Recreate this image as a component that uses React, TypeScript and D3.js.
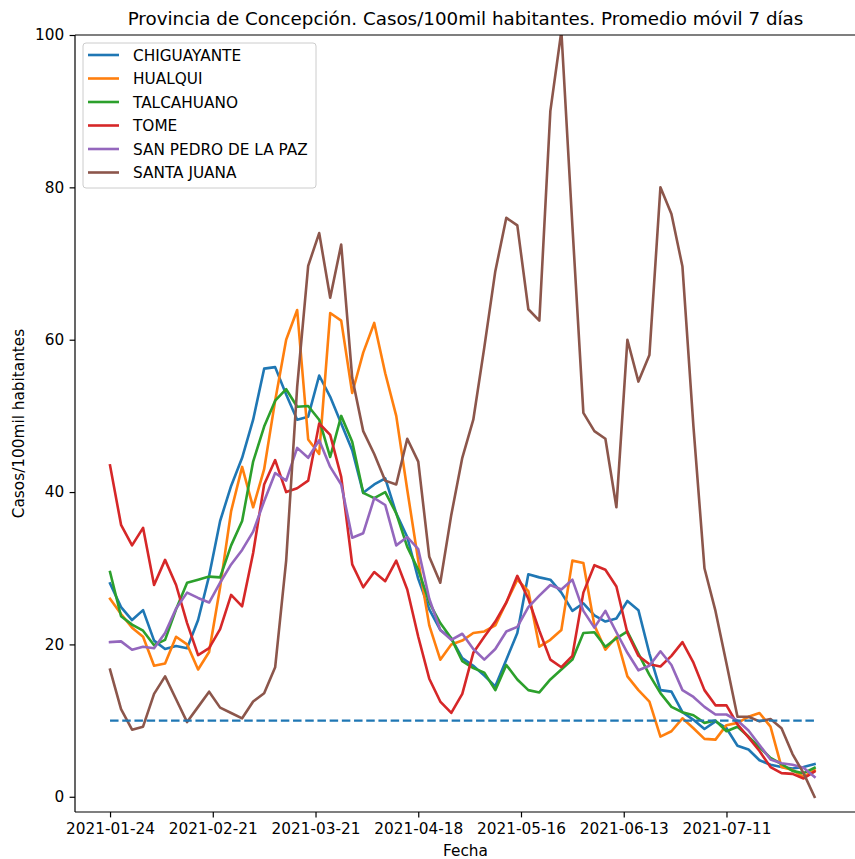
import { useEffect, useRef } from "react";
import * as d3 from "d3";

// Values, one every 3 days starting at startDate
const startDate = "2021-01-24";
const stepDays = 3;

const chiguayante = [
  28, 24.9, 23.2, 24.5, 20.5, 19.4, 19.8, 19.5, 23.2, 29,
  36.2, 40.8, 44.5, 49.5, 56.2, 56.4, 52.8, 49.5, 49.9, 55.3,
  52.5, 49, 45.5, 39.9, 41, 41.8, 37.2, 34.1, 28.6, 24.6,
  21.9, 20.8, 18.2, 17.2, 15.9, 14.5, 18, 21.5, 29.2, 28.8,
  28.5, 26.8, 24.4, 25.4, 23.8, 23, 23.4, 25.7, 24.5, 18.8,
  14, 13.8, 11.1, 10.1, 8.9, 9.9, 9, 6.7, 6.2, 4.8,
  4.2, 3.9, 3.7, 3.9, 4.3,
];
const hualqui = [
  26, 24, 22.2, 21, 17.2, 17.5, 21, 20, 16.7, 19,
  27.5, 37.5, 43.3, 38, 43, 52, 60, 63.9, 46.9, 45,
  63.5, 62.5, 53, 58.3, 62.2, 55.6, 50, 40.3, 31, 22.5,
  18, 20, 20.5, 21.5, 21.7, 22.5, 25.5, 28.5, 27, 19.7,
  20.6, 21.9, 31, 30.7, 22.5, 19.3, 21, 15.8, 14, 12.5,
  7.9, 8.6, 10.3, 9, 7.6, 7.5, 9.4, 9.7, 10.5, 11,
  9.2, 3.9, 3.5, 2.6, 3.5,
];
const talcahuano = [
  29.5, 23.7, 22.6, 21.8, 19.9, 20.6, 24.6, 28.1, 28.5, 28.9,
  28.8, 33, 36.2, 44, 48.6, 52, 53.5, 51.2, 51.3, 49.5,
  44.6, 50, 46.6, 39.9, 39.2, 40, 37.2, 32.8, 29.8, 25.5,
  22.8, 20.8, 17.8, 16.9, 16.3, 14, 17.3, 15.4, 14, 13.7,
  15.4, 16.7, 18, 21.5, 21.6, 19.7, 20.8, 21.7, 18.8, 16,
  13.6, 11.8, 11.1, 10.7, 9.7, 10, 8.6, 9.2, 7.9, 6.5,
  5.1, 4.3, 3.4, 3.1, 3.8,
];
const tome = [
  43.5, 35.7, 33, 35.3, 27.8, 31.1, 27.8, 22.8, 18.6, 19.5,
  22, 26.5, 25, 32, 41, 44.2, 40, 40.5, 41.5, 49,
  47.5, 42, 30.5, 27.5, 29.5, 28.3, 31, 27.2, 21, 15.5,
  12.5, 11, 13.5, 18.9, 21, 23, 25.5, 29, 26, 21.8,
  18, 17, 18.5, 26.8, 30.4, 29.8, 27.6, 21.5, 18.5, 17.4,
  17.1, 18.5, 20.3, 17.6, 14, 12, 12, 9.5, 7.8, 6,
  3.9, 3.1, 3, 2.4, 3.3,
];
const sanPedro = [
  20.3, 20.4, 19.3, 19.7, 19.5, 21.5, 24.7, 26.8, 26.1, 25.5,
  28.1, 30.5, 32.4, 34.8, 38.8, 42.5, 41.5, 45.8, 44.5, 46.8,
  43.3, 41, 34, 34.6, 39.2, 38.3, 33, 34.1, 32.5, 26,
  21.9, 20.6, 21.4, 19.4, 18, 19.4, 21.7, 22.3, 24.9, 26.4,
  27.8, 27.2, 28.5, 24.4, 22.2, 24.4, 21.6, 18.9, 16.6, 17.2,
  19.1, 17.3, 14, 13.1, 11.8, 10.8, 10.8, 10, 8.7, 6.8,
  4.9, 4.4, 4.2, 3.8, 2.6,
];
const santaJuana = [
  16.7, 11.5, 8.8, 9.2, 13.5, 15.8, 12.8, 9.8, 11.8, 13.8,
  11.7, 11, 10.3, 12.5, 13.6, 17, 31, 53.8, 69.7, 74,
  65.5, 72.5, 55, 48, 45, 41.5, 41, 47, 44, 31.5,
  28.1, 37, 44.5, 49.5, 59, 69, 76, 75, 64, 62.5,
  90, 100.5, 75, 50.4, 48, 47, 38, 60, 54.5, 58,
  80, 76.5, 69.6, 48.6, 30, 24.4, 17.5, 10.5, 10.5, 9.9,
  10.2, 9, 5.6, 3.1, 0,
];

const seriesNames = ["CHIGUAYANTE", "HUALQUI", "TALCAHUANO", "TOME", "SAN PEDRO DE LA PAZ", "SANTA JUANA"];
const seriesValues = [chiguayante, hualqui, talcahuano, tome, sanPedro, santaJuana];
const seriesColors = ["#1f77b4", "#ff7f0e", "#2ca02c", "#d62728", "#9467bd", "#8c564b"];

const xTickLabels = ["2021-01-24", "2021-02-21", "2021-03-21", "2021-04-18", "2021-05-16", "2021-06-13", "2021-07-11"];
const yTickValues = [0, 20, 40, 60, 80, 100];
const thresholdValue = 10;

const FONT = "DejaVu Sans, sans-serif";

export default function App() {
  const svgRef = useRef<SVGSVGElement>(null);

  useEffect(() => {
    if (!svgRef.current) return;
    const svg = d3.select(svgRef.current);
    svg.selectAll("*").remove();

    const left = 75, right = 856, top = 35, bottom = 812;
    const day = 864e5;
    const parse = d3.timeParse("%Y-%m-%d");
    const start = parse(startDate)!;
    const dates = seriesValues[0].map((_, i) => new Date(start.getTime() + i * stepDays * day));

    const x = d3.scaleTime()
      .domain([new Date(start.getTime() - 9.55 * day), new Date(start.getTime() + 203.3 * day)])
      .range([left, right]);
    const y = d3.scaleLinear().domain([-2, 100]).range([bottom, top]);

    svg.append("rect").attr("width", 855).attr("height", 859).attr("fill", "white");

    svg.append("defs").append("clipPath").attr("id", "plot-clip")
      .append("rect").attr("x", left).attr("y", top).attr("width", right - left).attr("height", bottom - top);

    const plot = svg.append("g").attr("clip-path", "url(#plot-clip)");

    // Lines
    const line = d3.line<number>()
      .x((_, i) => x(dates[i]))
      .y(d => y(d));

    seriesValues.forEach((vals, i) => {
      plot.append("path")
        .attr("d", line(vals))
        .attr("fill", "none")
        .attr("stroke", seriesColors[i])
        .attr("stroke-width", 2.6)
        .attr("stroke-linejoin", "round")
        .attr("stroke-linecap", "square");
    });

    // Threshold dashed line
    plot.append("line")
      .attr("x1", x(dates[0])).attr("x2", x(dates[dates.length - 1]))
      .attr("y1", y(thresholdValue)).attr("y2", y(thresholdValue))
      .attr("stroke", "#1f77b4")
      .attr("stroke-width", 2.3)
      .attr("stroke-dasharray", "8.5,3.7");

    // Axes
    const xAxis = d3.axisBottom(x)
      .tickValues(xTickLabels.map(s => parse(s)!))
      .tickFormat(d => d3.timeFormat("%Y-%m-%d")(d as Date))
      .tickSize(5.4).tickPadding(5.4);
    const gx = svg.append("g").attr("transform", `translate(0,${bottom})`).call(xAxis);
    const yAxis = d3.axisLeft(y).tickValues(yTickValues).tickSize(5.4).tickPadding(5.4);
    const gy = svg.append("g").attr("transform", `translate(${left},0)`).call(yAxis);

    [gx, gy].forEach(g => {
      g.select(".domain").remove();
      g.selectAll("line").attr("stroke", "black").attr("stroke-width", 1.2);
      g.selectAll("text").attr("fill", "black").attr("font-family", FONT).attr("font-size", 15.3);
    });

    // Spines (right one falls outside the picture)
    const spine = svg.append("g").attr("stroke", "black").attr("stroke-width", 1.2).attr("fill", "none");
    spine.append("line").attr("x1", left).attr("x2", left).attr("y1", top).attr("y2", bottom);
    spine.append("line").attr("x1", left).attr("x2", right).attr("y1", bottom).attr("y2", bottom);
    spine.append("line").attr("x1", left).attr("x2", right).attr("y1", top).attr("y2", top);

    // Titles
    svg.append("text")
      .attr("x", (left + right) / 2).attr("y", 25)
      .attr("text-anchor", "middle")
      .attr("font-family", FONT).attr("font-size", 18.3)
      .text("Provincia de Concepción. Casos/100mil habitantes. Promedio móvil 7 días");

    svg.append("text")
      .attr("x", (left + right) / 2).attr("y", 856)
      .attr("text-anchor", "middle")
      .attr("font-family", FONT).attr("font-size", 15.3)
      .text("Fecha");

    svg.append("text")
      .attr("transform", `translate(24,${(top + bottom) / 2}) rotate(-90)`)
      .attr("text-anchor", "middle")
      .attr("font-family", FONT).attr("font-size", 15.3)
      .text("Casos/100mil habitantes");

    // Legend
    const legend = svg.append("g");
    legend.append("rect")
      .attr("x", 83).attr("y", 43).attr("width", 233).attr("height", 145)
      .attr("rx", 3).attr("fill", "white").attr("fill-opacity", 0.8)
      .attr("stroke", "#cccccc").attr("stroke-width", 1);
    seriesNames.forEach((name, i) => {
      const cy = 55 + 23.5 * i;
      legend.append("line")
        .attr("x1", 88).attr("x2", 119).attr("y1", cy).attr("y2", cy)
        .attr("stroke", seriesColors[i]).attr("stroke-width", 2.6);
      legend.append("text")
        .attr("x", 133).attr("y", cy + 5.5)
        .attr("font-family", FONT).attr("font-size", 15.3)
        .text(name);
    });
  }, []);

  return (
    <div style={{ position: "absolute", left: 0, top: 0 }}>
      <svg ref={svgRef} width={855} height={859} style={{ display: "block" }}></svg>
    </div>
  );
}
